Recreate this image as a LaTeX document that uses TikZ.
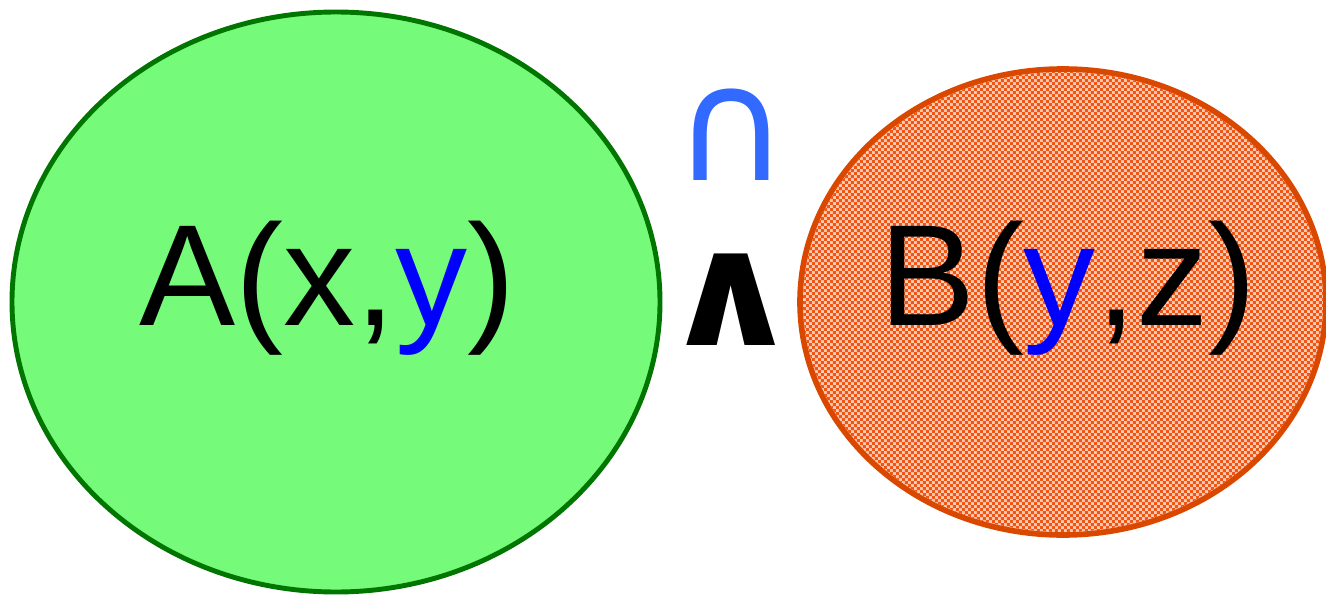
\documentclass[tikz,border=0pt]{standalone}
\usepackage{fontspec}
\setmainfont{Liberation Sans}
\newfontfamily\symfont{DejaVu Sans}
\usepackage{tikz}
\usetikzlibrary{shapes.geometric, patterns, positioning}
\definecolor{setgreen}{RGB}{118,250,122}
\definecolor{edgegreen}{RGB}{0,118,0}
\definecolor{setorange}{RGB}{240,85,20}
\definecolor{edgeorange}{RGB}{218,72,0}
\definecolor{varblue}{RGB}{0,0,255}
\definecolor{capblue}{RGB}{50,105,255}
\pgfdeclarepatternformonly{finechecks}{\pgfpointorigin}{\pgfpoint{3.4pt}{3.4pt}}{\pgfpoint{3.4pt}{3.4pt}}{
  \pgfpathrectangle{\pgfpointorigin}{\pgfpoint{1.7pt}{1.7pt}}
  \pgfpathrectangle{\pgfpoint{1.7pt}{1.7pt}}{\pgfpoint{1.7pt}{1.7pt}}
  \pgfusepath{fill}}
\tikzset{
  setA/.style={ellipse,draw=edgegreen,fill=setgreen,line width=2.8pt,
    minimum width=12.96cm,minimum height=11.6cm,inner sep=0pt},
  setB/.style={ellipse,draw=edgeorange,fill=setorange!30,line width=3.2pt,
    minimum width=10.52cm,minimum height=9.32cm,inner sep=0pt},
  reltext/.style={font=\fontsize{82}{90}\selectfont,anchor=base,inner sep=0pt},
  opsym/.style={font=\symfont\fontsize{90}{96}\selectfont,anchor=base,inner sep=0pt}
}

\begin{document}
\begin{tikzpicture}
  \useasboundingbox (0,0) rectangle (26.52,11.88);
  \node[setA] (setx) at (6.72,5.84) {};
  \node[setB] (sety) at (21.26,5.84) {};
  \fill[pattern=finechecks,pattern color=setorange]
    (sety.center) ellipse [x radius=5.2cm,y radius=4.6cm];
  \node[reltext] (relA) at (6.55,5.38) {A(x,\textcolor{varblue}{y})};
  \node[reltext] (relB) at (21.36,5.38) {B(\textcolor{varblue}{y},z)};
  \node[opsym,text=capblue] (capop) at (14.62,8.28) {∩};
  \node[opsym,font=\symfont\bfseries\fontsize{90}{96}\selectfont,
        xscale=1.1,transform shape] (andop) at (14.62,4.98) {∧};
\end{tikzpicture}
\end{document}
